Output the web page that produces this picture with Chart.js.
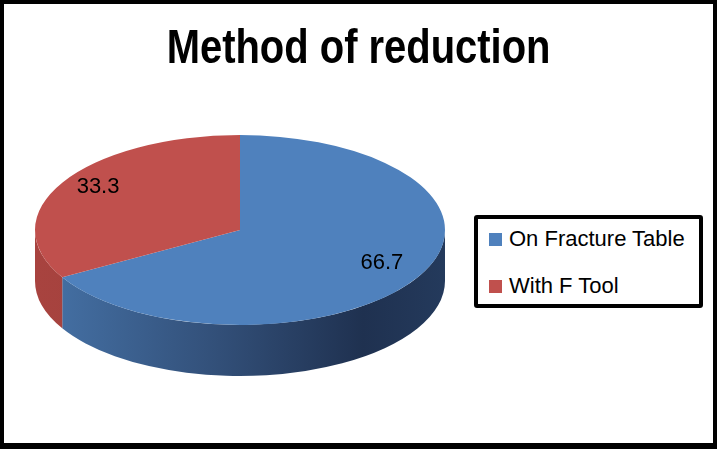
<!DOCTYPE html>
<html>
<head>
<meta charset="utf-8">
<script src="https://cdn.jsdelivr.net/npm/chart.js@4/dist/chart.umd.min.js"></script>
<style>
  body { margin: 0; background: #fff; }
  #wrap { position: relative; width: 717px; height: 449px; overflow: hidden; }
  #frame {
    position: absolute; left: 0; top: 0; width: 717px; height: 449px; box-sizing: border-box;
    border: 4px solid #000; border-bottom-width: 6px; pointer-events: none;
  }
  #title {
    position: absolute; left: 0; top: 22px; width: 717px; text-align: center;
    font-family: 'Liberation Sans', Arial, sans-serif; font-weight: bold; font-size: 49px; line-height: 1;
    color: #000; transform: scaleX(0.815); transform-origin: 359px 0;
  }
  #legend {
    position: absolute; left: 474px; top: 215px; width: 229px; height: 93px; box-sizing: border-box;
    border: 4px solid #000; border-radius: 3px; background: #fff; padding-top: 8px;
    font-family: 'Liberation Sans', Arial, sans-serif; font-size: 22px; color: #000;
  }
  #legend .row { display: flex; align-items: center; height: 24px; margin-bottom: 23px; padding-left: 11px; }
  #legend .box { width: 13px; height: 13px; margin-right: 7px; }
</style>
</head>
<body>
<div id="wrap">
  <canvas id="pieChart" width="717" height="449"></canvas>
  <div id="title">Method of reduction</div>
  <div id="legend"></div>
  <div id="frame"></div>
</div>
<script>
// data
const categories = ['On Fracture Table', 'With F Tool'];
const values = [66.7, 33.3];
const topColors = ['#4f81bd', '#c0504d'];

// 3d look
const tilt = 0.463;   // ry / rx
const depth = 51;

function sideFill(ctx, i, cx, rx) {
  const g = ctx.createLinearGradient(cx - rx, 0, cx + rx, 0);
  if (i === 0) {
    g.addColorStop(0, '#4673a8');
    g.addColorStop(0.45, '#324f78');
    g.addColorStop(0.8, '#1f3150');
    g.addColorStop(1, '#243a5c');
  } else {
    g.addColorStop(0, '#a8433f');
    g.addColorStop(1, '#8f3a37');
  }
  return g;
}

// =======================
// Plugin: tilted pie with side wall + value labels
// =======================
const pie3d = {
  id: 'pie3d',
  beforeDatasetsDraw(chart) {
    const ctx = chart.ctx;
    const arcs = chart.getDatasetMeta(0).data;
    const { x: cx, y: cy, outerRadius: rx } = arcs[0];
    const ry = rx * tilt;

    arcs.forEach((arc, i) => {
      const a1 = Math.max(arc.startAngle, 0);
      const a2 = Math.min(arc.endAngle, Math.PI);
      if (a2 <= a1) return;
      ctx.beginPath();
      ctx.ellipse(cx, cy, rx, ry, 0, a1, a2);
      ctx.ellipse(cx, cy + depth, rx, ry, 0, a2, a1, true);
      ctx.closePath();
      ctx.fillStyle = sideFill(ctx, i, cx, rx);
      ctx.fill();
    });

    ctx.save();
    ctx.translate(cx, cy);
    ctx.scale(1, tilt);
    ctx.translate(-cx, -cy);
  },
  afterDatasetsDraw(chart) {
    const ctx = chart.ctx;
    ctx.restore();

    const arcs = chart.getDatasetMeta(0).data;
    const data = chart.data.datasets[0].data;
    ctx.save();
    ctx.font = '22px "Liberation Sans", Arial, sans-serif';
    ctx.fillStyle = '#000';
    ctx.textAlign = 'center';
    ctx.textBaseline = 'middle';
    arcs.forEach((arc, i) => {
      const mid = (arc.startAngle + arc.endAngle) / 2;
      const r = arc.outerRadius * 0.8;
      const x = arc.x + Math.cos(mid) * r;
      const y = arc.y + Math.sin(mid) * r * tilt - 5;
      ctx.fillText(data[i].toFixed(1), x, y);
    });
    ctx.restore();
  }
};

// =======================
// HTML legend
// =======================
const htmlLegend = {
  id: 'htmlLegend',
  afterUpdate(chart) {
    const box = document.getElementById('legend');
    box.innerHTML = '';
    chart.data.labels.forEach((label, i) => {
      const row = document.createElement('div');
      row.className = 'row';
      row.innerHTML = `<span class="box" style="background:${chart.data.datasets[0].backgroundColor[i]}"></span><span>${label}</span>`;
      box.appendChild(row);
    });
  }
};

new Chart(document.getElementById('pieChart'), {
  type: 'pie',
  data: {
    labels: categories,
    datasets: [{
      data: values,
      backgroundColor: topColors,
      borderWidth: 0,
      radius: 205,
      clip: false
    }]
  },
  options: {
    responsive: false,
    animation: false,
    layout: { padding: { left: 20, right: 257, top: 85, bottom: 74 } },
    plugins: {
      legend: { display: false },
      tooltip: { enabled: false }
    }
  },
  plugins: [pie3d, htmlLegend]
});
</script>
</body>
</html>
